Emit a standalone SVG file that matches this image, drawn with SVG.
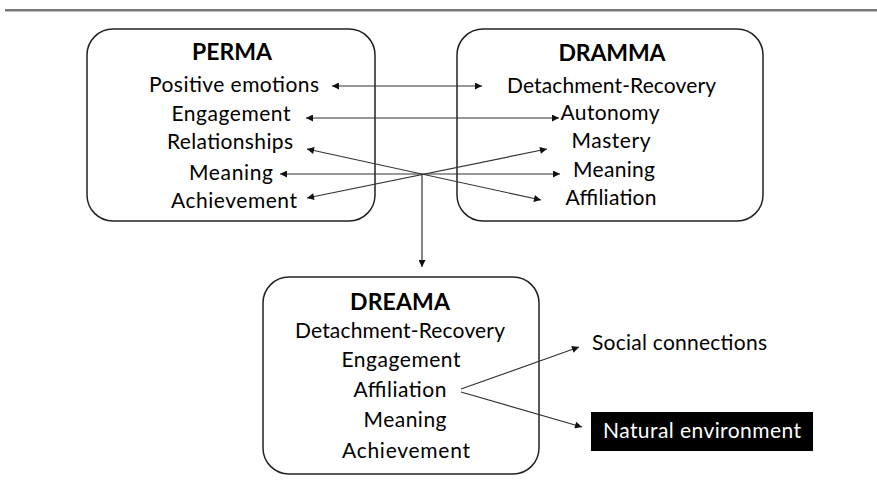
<svg xmlns="http://www.w3.org/2000/svg" width="877" height="488" viewBox="0 0 877 488">
  <style>
    .box { fill: #fff; stroke: #222; stroke-width: 1.5; }
    .t { font-family: Lato, "Open Sans", "Liberation Sans", sans-serif; font-size: 21px; fill: #000; text-anchor: middle; }
    .h { font-weight: bold; font-size: 23px; }
    .link { stroke: #333; stroke-width: 1.2; fill: none; }
    .dbl { marker-start: url(#headS); marker-end: url(#headE); }
    .one { marker-end: url(#headE); }
  </style>
  <defs>
    <marker id="headE" viewBox="0 0 10 10" refX="10" refY="5" markerWidth="9" markerHeight="7" markerUnits="userSpaceOnUse" orient="auto">
      <path d="M0,0 L10,5 L0,10 Z" fill="#111"/>
    </marker>
    <marker id="headS" viewBox="0 0 10 10" refX="0" refY="5" markerWidth="9" markerHeight="7" markerUnits="userSpaceOnUse" orient="auto">
      <path d="M10,0 L0,5 L10,10 Z" fill="#111"/>
    </marker>
  </defs>

  <rect x="5" y="9" width="872" height="2.5" fill="#777"/>

  <g id="perma">
    <rect class="box" x="87" y="29" width="288" height="192" rx="26"/>
    <text class="t h" x="232" y="60" textLength="80">PERMA</text>
    <text class="t" x="234" y="92" textLength="170">Positive emotions</text>
    <text class="t" x="231" y="121" textLength="119">Engagement</text>
    <text class="t" x="230" y="149" textLength="126">Relationships</text>
    <text class="t" x="231" y="180" textLength="84">Meaning</text>
    <text class="t" x="234" y="208" textLength="126">Achievement</text>
  </g>

  <g id="dramma">
    <rect class="box" x="457" y="29" width="306" height="192" rx="26"/>
    <text class="t h" x="612" y="61" textLength="107">DRAMMA</text>
    <text class="t" x="611.5" y="93" textLength="209">Detachment-Recovery</text>
    <text class="t" x="610" y="120" textLength="99">Autonomy</text>
    <text class="t" x="611" y="148" textLength="79">Mastery</text>
    <text class="t" x="614" y="177" textLength="82">Meaning</text>
    <text class="t" x="611" y="205" textLength="91">Affiliation</text>
  </g>

  <g id="dreama">
    <rect class="box" x="263" y="277" width="276" height="197" rx="26"/>
    <text class="t h" x="400" y="310" textLength="100">DREAMA</text>
    <text class="t" x="400" y="338" textLength="210">Detachment-Recovery</text>
    <text class="t" x="401" y="367" textLength="119">Engagement</text>
    <text class="t" x="400" y="397" textLength="93">Affiliation</text>
    <text class="t" x="405" y="427" textLength="83">Meaning</text>
    <text class="t" x="406" y="458" textLength="128">Achievement</text>
  </g>

  <g id="social">
    <text class="t" x="679.5" y="350" textLength="175">Social connections</text>
  </g>

  <g id="natural">
    <rect x="591" y="412" width="222" height="39" fill="#000"/>
    <text class="t" x="702" y="438" textLength="198" style="fill:#fff">Natural environment</text>
  </g>

  <g id="connectors">
    <line class="link dbl" x1="332" y1="86" x2="482" y2="86"/>
    <line class="link dbl" x1="306" y1="118" x2="559" y2="118"/>
    <line class="link dbl" x1="307" y1="149" x2="541" y2="200"/>
    <line class="link dbl" x1="280" y1="174" x2="560" y2="174"/>
    <line class="link dbl" x1="307" y1="198" x2="547" y2="149"/>
    <line class="link one" x1="422" y1="174" x2="422" y2="267"/>
    <line class="link one" x1="461" y1="389" x2="579" y2="347"/>
    <line class="link one" x1="461" y1="392" x2="582" y2="427"/>
  </g>
</svg>
